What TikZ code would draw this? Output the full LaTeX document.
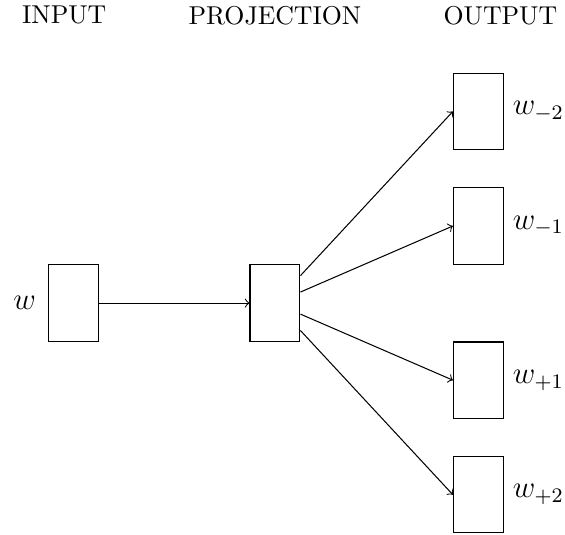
\documentclass[tikz,border=0pt]{standalone}
\usetikzlibrary{positioning}
\begin{document}
\begin{tikzpicture}[>=to]
    \useasboundingbox (-0.995,-3.147) rectangle (6.70,4.128);
    \begin{scope}[every node/.style={draw,minimum width=0.68cm,minimum height=1.04cm}]
      \node (input) at (0,0) {};
      \node (projection) at (2.75,0) {};
      \node (outa) at (5.52,2.61) {};
      \node (outb) at (5.52,1.05) {};
      \node (outc) at (5.52,-1.05) {};
      \node (outd) at (5.52,-2.61) {};
    \end{scope}
    \node (intitle) at (-0.12,3.92) {INPUT};
    \node (projtitle) at (2.75,3.92) {PROJECTION};
    \node (outtitle) at (5.82,3.92) {OUTPUT};

    \begin{scope}[every node/.style={font=\large}]
      \node [left=1pt of input] (inlabel) {$w$};
      \node [right=0pt of outa] (labela) {$w_{-2}$};
      \node [right=0pt of outb] (labelb) {$w_{-1}$};
      \node [right=0pt of outc] (labelc) {$w_{+1}$};
      \node [right=0pt of outd] (labeld) {$w_{+2}$};
    \end{scope}

    \draw [->] (input) -- (projection);
    \draw [->] (projection) -- (outa.west);
    \draw [->] (projection) -- (outb.west);
    \draw [->] (projection) -- (outc.west);
    \draw [->] (projection) -- (outd.west);
  \end{tikzpicture}
\end{document}
